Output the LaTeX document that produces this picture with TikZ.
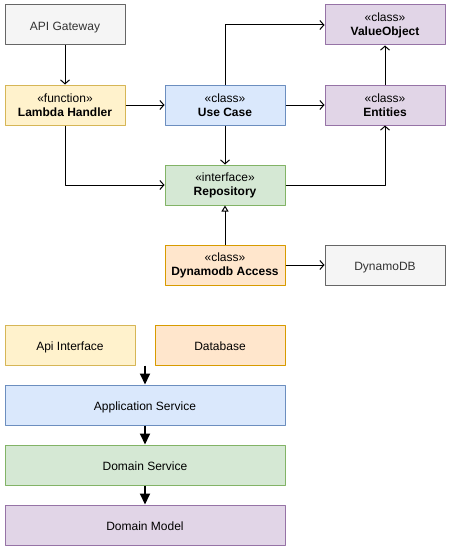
\documentclass[tikz,border=0pt]{standalone}
\usepackage{fontspec}
\setmainfont{Liberation Sans}
\usetikzlibrary{arrows.meta}
\definecolor{grayfill}{HTML}{F5F5F5}
\definecolor{grayline}{HTML}{666666}
\definecolor{graytext}{HTML}{333333}
\definecolor{yellowfill}{HTML}{FFF2CC}
\definecolor{yellowline}{HTML}{D6B656}
\definecolor{bluefill}{HTML}{DAE8FC}
\definecolor{blueline}{HTML}{6C8EBF}
\definecolor{purplefill}{HTML}{E1D5E7}
\definecolor{purpleline}{HTML}{9673A6}
\definecolor{greenfill}{HTML}{D5E8D4}
\definecolor{greenline}{HTML}{82B366}
\definecolor{orangefill}{HTML}{FFE6CC}
\definecolor{orangeline}{HTML}{D79B00}
\newcommand{\stereo}[2]{\guillemotleft #1\guillemotright\\\textbf{#2}}

\begin{document}
\begin{tikzpicture}[x=1pt,y=-1pt,line join=round,font=\fontsize{12}{14}\selectfont,
    >={Straight Barb[length=4pt,width=9pt]},line width=1pt,
    box/.style={draw,line width=1pt,minimum width=120pt,minimum height=40pt,inner sep=0pt,align=center},
    graybox/.style={box,fill=grayfill,draw=grayline,text=graytext},
    yellowbox/.style={box,fill=yellowfill,draw=yellowline},
    bluebox/.style={box,fill=bluefill,draw=blueline},
    purplebox/.style={box,fill=purplefill,draw=purpleline},
    greenbox/.style={box,fill=greenfill,draw=greenline},
    orangebox/.style={box,fill=orangefill,draw=orangeline},
    oneline/.style={text height=10.5pt,text depth=0pt},
    layer/.style={oneline,minimum width=280pt},
    half/.style={oneline,minimum width=130pt},
    bigarrow/.style={line width=2pt,-{Triangle[length=11pt,width=10pt]}}]
    \useasboundingbox (0,0) rectangle (451,551);

    % classes
    \node[graybox,oneline] (gateway) at (65,25) {API Gateway};
    \node[yellowbox] (handler) at (65,105) {\stereo{function}{Lambda Handler}};
    \node[bluebox] (usecase) at (225,105) {\stereo{class}{Use Case}};
    \node[purplebox] (valueobj) at (385,25) {\stereo{class}{ValueObject}};
    \node[purplebox] (entities) at (385,105) {\stereo{class}{Entities}};
    \node[greenbox] (repo) at (225,185) {\stereo{interface}{Repository}};
    \node[orangebox] (access) at (225,265) {\stereo{class}{Dynamodb Access}};
    \node[graybox,oneline] (dynamo) at (385,265) {DynamoDB};

    \draw[->] (gateway) -- (handler);
    \draw[->] (handler) -- (usecase);
    \draw[->] (usecase) -- (entities);
    \draw[->] (usecase.north) |- (valueobj.west);
    \draw[->] (entities) -- (valueobj);
    \draw[->] (usecase) -- (repo);
    \draw[->] (handler.south) |- (repo.west);
    \draw[->] (repo.east) -| (entities.south);
    \draw[-{Triangle[open,length=6pt,width=7pt]}] (access) -- (repo);
    \draw[->] (access) -- (dynamo);

    % layers
    \node[yellowbox,half] (apiif) at (70,345) {Api Interface};
    \node[orangebox,half] (database) at (220,345) {Database};
    \node[bluebox,layer] (appsrv) at (145,405) {Application Service};
    \node[greenbox,layer] (domsrv) at (145,465) {Domain Service};
    \node[purplebox,layer] (dommodel) at (145,525) {Domain Model};

    \draw[bigarrow] (appsrv.north |- apiif.south) -- (appsrv.north);
    \draw[bigarrow] (appsrv) -- (domsrv);
    \draw[bigarrow] (domsrv) -- (dommodel);
\end{tikzpicture}
\end{document}
